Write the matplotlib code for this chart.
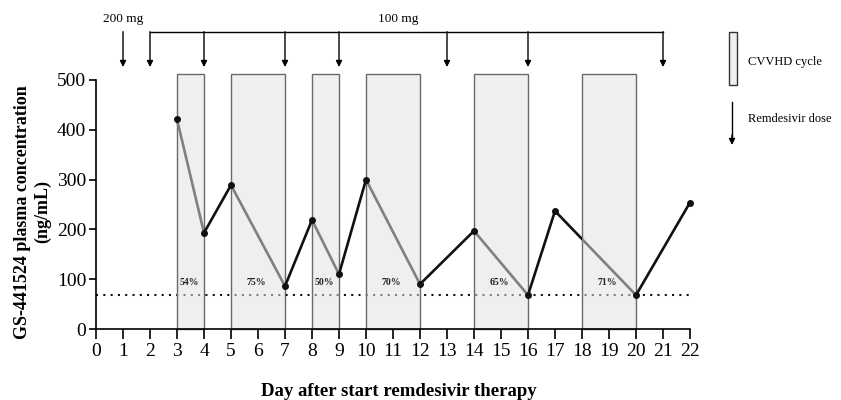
import numpy as np
import matplotlib
matplotlib.use("Agg")
import matplotlib.pyplot as plt
from matplotlib.patches import Rectangle

plt.rcParams['font.family'] = ['Liberation Serif', 'DejaVu Serif']

# measured plasma concentrations (ng/mL)
days = [3, 4, 5, 7, 8, 9, 10, 12, 14, 16, 17, 20, 22]
conc = [421, 193, 289, 86, 219, 110, 300, 90, 197, 68, 237, 68, 254]

# CVVHD cycles (start day, end day) and removal percentage
cvvhd_start = [3, 5, 8, 10, 14, 18]
cvvhd_end = [4, 7, 9, 12, 16, 20]
cvvhd_pct = ['54%', '75%', '50%', '70%', '65%', '71%']

# remdesivir doses
loading_day = [1]
maint_days = [2, 4, 7, 9, 13, 16, 21]
threshold = 68

W, H = 841, 400
fig = plt.figure(figsize=(W / 100, H / 100), dpi=100)
ax = fig.add_axes([96 / W, 1 - 329 / H, 594 / W, 249 / H])

box_top = 513
boxes = []
for a, b in zip(cvvhd_start, cvvhd_end):
    r = Rectangle((a, 0), b - a, box_top, facecolor='#eeefef',
                  edgecolor='#6a6a6a', lw=1, zorder=1, clip_on=False)
    ax.add_patch(r)
    boxes.append(r)

# clip regions: inside a cycle (grey) / between cycles (black)
inside = [Rectangle((a, -100), b - a, 800, transform=ax.transData)
          for a, b in zip(cvvhd_start, cvvhd_end)]
gap_edges = [-1] + [v for ab in zip(cvvhd_start, cvvhd_end) for v in ab] + [23]
outside = [Rectangle((gap_edges[i], -100), gap_edges[i + 1] - gap_edges[i], 800,
                     transform=ax.transData)
           for i in range(0, len(gap_edges), 2)]


def draw_split(x, y, **kw):
    for clip, col in [(outside, '#111111'), (inside, '#808080')]:
        for r in clip:
            l, = ax.plot(x, y, color=col, clip_on=True, **kw)
            l.set_clip_path(r)


draw_split([0, 22], [threshold, threshold], lw=1.5,
           linestyle=(0, (1, 2.5)), zorder=2)
draw_split(days, conc, lw=1.9, zorder=3)
ax.plot(days, conc, 'o', color='#111111', ms=4, zorder=4, clip_on=False)

for a, b, p in zip(cvvhd_start, cvvhd_end, cvvhd_pct):
    ax.text((a + b) / 2 - 0.05, 93, p, ha='center', va='center',
            fontsize=7, fontweight='bold', color='#222222', zorder=5)

# dosing arrows
arrow_top, arrow_tip = 597, 526
aprops = dict(arrowstyle='-|>', color='black', lw=1, mutation_scale=9,
              shrinkA=0, shrinkB=0)
for d in loading_day + maint_days:
    ax.annotate('', xy=(d, arrow_tip), xytext=(d, arrow_top),
                arrowprops=aprops, annotation_clip=False)
ax.plot([maint_days[0], maint_days[-1]], [arrow_top, arrow_top],
        color='black', lw=1, clip_on=False)
ax.text(loading_day[0], 622, '200 mg', ha='center', va='center', fontsize=9.5)
ax.text(11.2, 622, '100 mg', ha='center', va='center', fontsize=9.5)

ax.set_xlim(0, 22)
ax.set_ylim(0, 500)
ax.set_xticks(range(0, 23))
ax.set_yticks(range(0, 501, 100))
for s in ['top', 'right']:
    ax.spines[s].set_visible(False)
ax.spines['left'].set_linewidth(1.2)
ax.spines['bottom'].set_linewidth(1.2)
ax.tick_params(axis='x', length=7, width=1.2, labelsize=14, pad=3)
ax.tick_params(axis='y', length=5, width=1.2, labelsize=14, pad=2)

ax.set_ylabel('GS-441524 plasma concentration\n(ng/mL)', fontsize=13,
              fontweight='bold', linespacing=1.25)
ax.yaxis.set_label_coords(-0.075, 0.47)
ax.set_xlabel('Day after start remdesivir therapy', fontsize=13.5,
              fontweight='bold')
ax.xaxis.set_label_coords(0.51, -0.217)

# legend outside the axes
fig.patches.append(Rectangle((729 / W, 1 - 85 / H), 8 / W, 53 / H,
                             facecolor='#eeefef', edgecolor='#333333', lw=1,
                             transform=fig.transFigure, figure=fig))
fig.text(748 / W, 1 - 62 / H, 'CVVHD cycle', fontsize=9, va='center')
fig.add_artist(plt.Line2D([732 / W, 732 / W], [1 - 102 / H, 1 - 138 / H],
                          color='black', lw=1, transform=fig.transFigure))
ax.annotate('', xy=(732, H - 145), xytext=(732, H - 135),
            xycoords='figure pixels', textcoords='figure pixels',
            arrowprops=aprops, annotation_clip=False)
fig.text(748 / W, 1 - 119 / H, 'Remdesivir dose', fontsize=9, va='center')

fig.savefig('out.png', dpi=100)
